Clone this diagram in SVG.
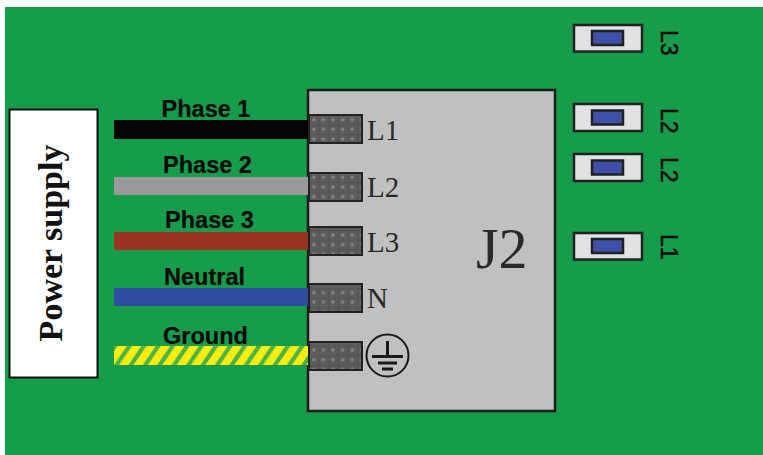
<svg xmlns="http://www.w3.org/2000/svg" width="763" height="455" viewBox="0 0 763 455">
<style>
.lab{font-family:"Liberation Sans",Arial,sans-serif;font-size:23.500px;font-weight:bold;fill:#0a0a0a;stroke:#0a0a0a;stroke-width:.2}
.ser{font-family:"Liberation Serif","Times New Roman",serif;fill:#2a2a2a}
.sw{fill:#e2e2e2;stroke:#1c2222;stroke-width:2.5}
.btn{fill:#4050a8;stroke:#1c2222;stroke-width:2.5}
.sl{font-family:"Liberation Sans",Arial,sans-serif;font-size:23px;fill:#0a0a0a;stroke:#0a0a0a;stroke-width:.5}
.term{fill:url(#mesh);stroke:#222;stroke-width:2}
</style>
<defs>
<pattern id="mesh" width="9.6" height="9.6" patternUnits="userSpaceOnUse" x="309" y="115">
<rect width="9.6" height="9.6" fill="#5c5c5c"/>
<circle cx="4.8" cy="4.8" r="1.6" fill="#8a8a8a"/>
<path d="M0 0H9.6M0 0V9.6" stroke="#4a4a4a" stroke-width="1"/>
</pattern>
<pattern id="hatch" width="14.4" height="19" patternUnits="userSpaceOnUse" x="114" y="346">
<rect width="14.4" height="19" fill="#f5ec10"/>
<path d="M0 19 L13 0 H18 L5 19Z M14.400 19 L27.400 0 H32.400 L19.400 19Z M-14.400 19 L-1.400 0 H3.600 L-9.400 19Z" fill="#4cb244"/>
</pattern>
</defs>
<rect width="763" height="455" fill="#fff"/>
<rect x="5" y="7" width="758" height="448" fill="#169c4a"/>

<g id="power-supply">
<rect x="9.500" y="109.500" width="88" height="268" fill="#fff" stroke="#111" stroke-width="2"/>
<text class="ser" transform="translate(62,243) rotate(-90)" text-anchor="middle" font-size="34" font-weight="bold" style="fill:#111">Power supply</text>
</g>

<g id="j2">
<rect x="308" y="90" width="247" height="321" fill="#c0c0c0" stroke="#1c1c1c" stroke-width="2.500"/>
<text class="ser" x="476" y="268" font-size="58">J2</text>
</g>

<g id="connectors">
<rect x="114" y="120" width="194" height="19" fill="#040404"/>
<rect x="114" y="177" width="194" height="18" fill="#9a9a9a"/>
<rect x="114" y="232" width="194" height="18" fill="#98341f"/>
<rect x="114" y="288" width="194" height="18" fill="#2f4ea3"/>
<rect x="114" y="346" width="195" height="19" fill="url(#hatch)"/>
</g>

<g id="terminal-l1"><rect class="term" x="309" y="115" width="53" height="28"/><text class="ser" x="367" y="140" font-size="29">L1</text></g>
<g id="terminal-l2"><rect class="term" x="309" y="173" width="53" height="28"/><text class="ser" x="367" y="197" font-size="29">L2</text></g>
<g id="terminal-l3"><rect class="term" x="309" y="227" width="53" height="28"/><text class="ser" x="367" y="252" font-size="29">L3</text></g>
<g id="terminal-n"><rect class="term" x="309" y="284" width="53" height="28"/><text class="ser" x="367" y="308" font-size="29">N</text></g>
<g id="terminal-ground"><rect class="term" x="309" y="342" width="53" height="28"/>
<circle cx="387.500" cy="355.500" r="21" fill="none" stroke="#1a1a1a" stroke-width="2"/>
<path d="M387.500 341V356M372 356.500H403M378 363H397M382 369H393" fill="none" stroke="#1a1a1a" stroke-width="3"/></g>

<g id="label-phase1"><text class="lab" x="206" y="117" text-anchor="middle">Phase 1</text></g>
<g id="label-phase2"><text class="lab" x="207.500" y="173" text-anchor="middle">Phase 2</text></g>
<g id="label-phase3"><text class="lab" x="209.500" y="228" text-anchor="middle">Phase 3</text></g>
<g id="label-neutral"><text class="lab" x="204.500" y="285" text-anchor="middle">Neutral</text></g>
<g id="label-ground"><text class="lab" x="205.500" y="344" text-anchor="middle">Ground</text></g>

<g id="sw-l3"><rect class="sw" x="574" y="25" width="68" height="26.500"/><rect class="btn" x="592" y="31" width="31" height="14"/><text class="sl" transform="translate(661,30) rotate(90)">L3</text></g>
<g id="sw-l2a"><rect class="sw" x="574" y="104" width="68" height="27"/><rect class="btn" x="592" y="110.500" width="31" height="14"/><text class="sl" transform="translate(661,108) rotate(90)">L2</text></g>
<g id="sw-l2b"><rect class="sw" x="574" y="154" width="68" height="27"/><rect class="btn" x="592" y="160.500" width="31" height="14"/><text class="sl" transform="translate(661,157) rotate(90)">L2</text></g>
<g id="sw-l1"><rect class="sw" x="574" y="233" width="68" height="26.500"/><rect class="btn" x="592" y="239" width="31" height="14"/><text class="sl" transform="translate(661,234) rotate(90)">L1</text></g>
</svg>
